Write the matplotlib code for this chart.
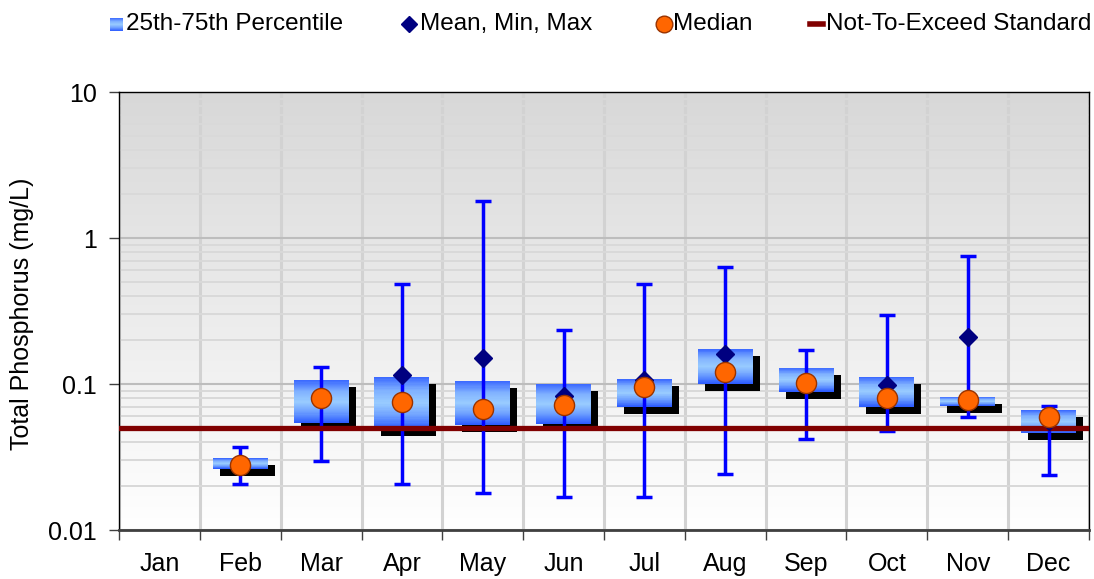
import numpy as np
import matplotlib.pyplot as plt
from matplotlib.colors import LinearSegmentedColormap
from matplotlib.lines import Line2D
from matplotlib.ticker import FixedLocator, NullFormatter
from matplotlib.transforms import offset_copy

plt.rcParams['font.family'] = ['Liberation Sans', 'DejaVu Sans']

# monthly total phosphorus statistics (mg/L), no samples in January
months = ['Jan', 'Feb', 'Mar', 'Apr', 'May', 'Jun',
          'Jul', 'Aug', 'Sep', 'Oct', 'Nov', 'Dec']
p25 = np.array([np.nan, 0.0263, 0.054, 0.049, 0.0524, 0.053,
                0.070, 0.100, 0.0886, 0.070, 0.071, 0.0459])
p75 = np.array([np.nan, 0.031, 0.106, 0.112, 0.105, 0.100,
                0.108, 0.174, 0.129, 0.112, 0.0815, 0.0664])
mean = np.array([np.nan, 0.028, 0.080, 0.116, 0.151, 0.083,
                 0.107, 0.160, 0.104, 0.098, 0.209, 0.056])
vmin = np.array([np.nan, 0.0208, 0.0295, 0.0208, 0.0179, 0.0168,
                 0.0168, 0.0242, 0.042, 0.048, 0.0597, 0.0238])
vmax = np.array([np.nan, 0.037, 0.131, 0.484, 1.79, 0.234,
                 0.486, 0.635, 0.171, 0.297, 0.757, 0.071])
median = np.array([np.nan, 0.0279, 0.0798, 0.0753, 0.0671, 0.0714,
                   0.0948, 0.120, 0.101, 0.0798, 0.0776, 0.0597])
standard = 0.05

box_cmap = LinearSegmentedColormap.from_list(
    'box', ['#3d6bff', '#7fb0ff', '#99ccff', '#6d9fff', '#2d5cff'])
bg_cmap = LinearSegmentedColormap.from_list('bg', ['#d8d8d8', '#ffffff'])

fig = plt.figure(figsize=(10.94, 5.79), dpi=100)
rect = [0.1088, 0.0846, 0.8866, 0.7565]

# gradient plot background on its own axes behind the data
bg = fig.add_axes(rect, zorder=0)
bg.imshow(np.linspace(0, 1, 256).reshape(-1, 1), cmap=bg_cmap,
          aspect='auto', extent=[0, 1, 0, 1])
bg.axis('off')

ax = fig.add_axes(rect, zorder=1)
ax.set_facecolor('none')
ax.set_yscale('log')

x = np.arange(len(months))
has = ~np.isnan(mean)
w = 0.68
shadow_tr = offset_copy(ax.transData, fig=fig, x=7, y=-7, units='dots')

for i in x[has]:
    lo, hi = p25[i], p75[i]
    ax.bar(x[i], hi - lo, bottom=lo, width=w, color='black',
           linewidth=0, transform=shadow_tr, zorder=2)
    edges = np.logspace(np.log10(lo), np.log10(hi), 41)
    cols = box_cmap(np.linspace(1, 0, 40))
    ax.bar(np.full(40, x[i]), np.diff(edges), bottom=edges[:-1], width=w,
           color=cols, linewidth=0, antialiased=False, zorder=3)

ax.errorbar(x[has], mean[has],
            yerr=[mean[has] - vmin[has], vmax[has] - mean[has]],
            fmt='none', ecolor='#0000ff', elinewidth=2.5,
            capsize=6, capthick=2.5, zorder=4)
ax.axhline(standard, color='#800000', lw=3.8, zorder=5)
ax.plot(x[has], mean[has], 'D', color='#000080', ms=9.5, ls='none', zorder=6)
ax.plot(x[has], median[has], 'o', mfc='#ff6600', mec='#993300', mew=1,
        ms=14.5, ls='none', zorder=7)

ax.set_xlim(-0.5, 11.5)
ax.set_ylim(0.01, 10)

# x: ticks at month boundaries, labels centred in each slot
ax.set_xticks(np.arange(-0.5, 12, 1))
ax.set_xticklabels([])
ax.set_xticks(x, minor=True)
ax.set_xticklabels(months, minor=True, fontsize=18)
ax.tick_params(axis='x', which='major', length=7, width=1, color='#404040',
               direction='out')
ax.tick_params(axis='x', which='minor', length=0, pad=16)

ax.yaxis.set_major_locator(FixedLocator([0.01, 0.1, 1, 10]))
ax.set_yticklabels(['0.01', '0.1', '1', '10'], fontsize=18)
ax.yaxis.set_minor_formatter(NullFormatter())
ax.tick_params(axis='y', which='major', length=7, width=1, color='#404040',
               pad=9)
ax.tick_params(axis='y', which='minor', length=0)

ax.grid(True, which='major', axis='x', color='#d2d2d2', lw=2.2)
ax.grid(True, which='major', axis='y', color='#bdbdbd', lw=1.5)
ax.grid(True, which='minor', axis='y', color='#d9d9d9', lw=1.4)
ax.set_axisbelow(True)

for s in ['left', 'right', 'top']:
    ax.spines[s].set_linewidth(1)
    ax.spines[s].set_color('black')
ax.spines['bottom'].set_linewidth(2)
ax.spines['bottom'].set_color('#404040')

fig.text(0.0201, 0.4577, 'Total Phosphorus (mg/L)', rotation=90,
         ha='center', va='center', fontsize=18)

# legend row across the top
ly = 0.9585
icon = fig.add_axes([110 / 1094, 1 - 31 / 579, 13 / 1094, 13 / 579])
icon.imshow(np.linspace(0, 1, 64).reshape(-1, 1), cmap=box_cmap, aspect='auto')
icon.axis('off')
fig.text(126 / 1094, ly, '25th-75th Percentile', va='center', fontsize=17.5)

fig.add_artist(Line2D([409 / 1094], [ly], transform=fig.transFigure,
                      marker='D', ms=8, color='#000080', ls='none'))
fig.text(420 / 1094, ly, 'Mean, Min, Max', va='center', fontsize=17.5)

fig.add_artist(Line2D([664 / 1094], [ly], transform=fig.transFigure,
                      marker='o', ms=12, mfc='#ff6600', mec='#993300',
                      mew=1, ls='none'))
fig.text(673 / 1094, ly, 'Median', va='center', fontsize=17.5)

fig.add_artist(Line2D([810 / 1094, 823 / 1094], [ly, ly],
                      transform=fig.transFigure, color='#800000', lw=4))
fig.text(826 / 1094, ly, 'Not-To-Exceed Standard', va='center', fontsize=17.5)

fig.savefig('out.png', dpi=100)
